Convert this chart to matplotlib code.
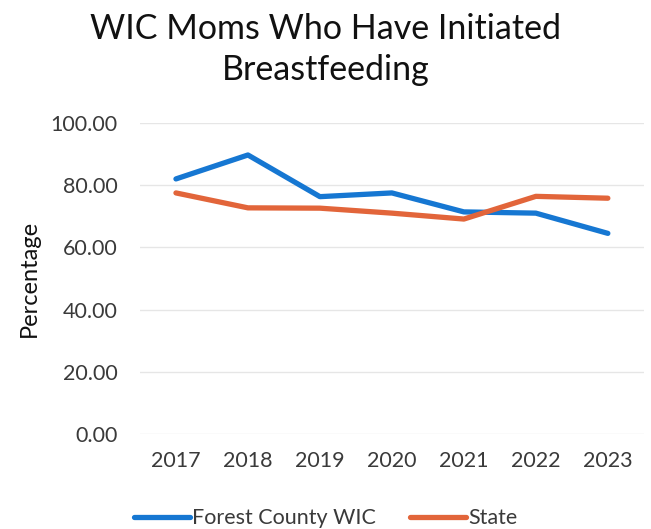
import matplotlib
matplotlib.use("Agg")
import matplotlib.pyplot as plt

years = ["2017", "2018", "2019", "2020", "2021", "2022", "2023"]
forest_wic = [82.0, 89.7, 76.3, 77.5, 71.4, 71.0, 64.5]
state = [77.5, 72.7, 72.6, 71.0, 69.1, 76.4, 75.8]
yticks = [0, 20, 40, 60, 80, 100]

plt.rcParams["font.family"] = ["Lato", "DejaVu Sans"]
TXT = "#3a3a3a"

fig = plt.figure(figsize=(6.51, 5.29), dpi=100)
ax = fig.add_axes([0.215, 0.1796, 0.774, 0.588])

x = range(len(years))
ax.plot(x, forest_wic, color="#1677D2", lw=3.8, solid_capstyle="round",
        label="Forest County WIC")
ax.plot(x, state, color="#E2653A", lw=3.8, solid_capstyle="round",
        label="State")

ax.set_ylim(0, 100)
ax.set_xlim(-0.5, 6.5)
ax.set_yticks(yticks)
ax.set_yticklabels([f"{v:.2f}" for v in yticks])
ax.set_xticks(list(x))
ax.set_xticklabels(years)
ax.yaxis.grid(True, color="#e6e6e6", lw=1)
ax.set_axisbelow(True)
for s in ax.spines.values():
    s.set_visible(False)
ax.tick_params(length=0, labelsize=15.5, colors=TXT, pad=16)
ax.tick_params(axis="x", pad=12)
ax.set_ylabel("Percentage", fontsize=17, color="#111111", labelpad=8)

fig.suptitle("WIC Moms Who Have Initiated\nBreastfeeding", fontsize=24.5,
             color="#111111", y=0.975, linespacing=1.35)

fig.legend(loc="lower center", ncol=2, frameon=False, fontsize=15.5,
           handlelength=2.6, columnspacing=1.6, handletextpad=0.1,
           bbox_to_anchor=(0.5, -0.035), labelcolor=TXT)

fig.savefig("out.png", dpi=100)
